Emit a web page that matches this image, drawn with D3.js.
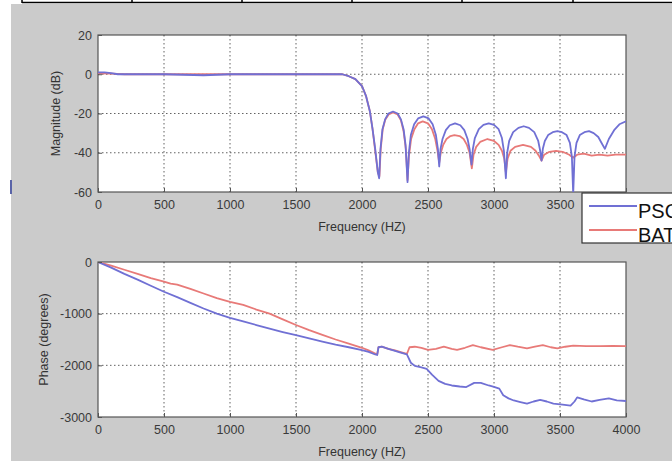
<!DOCTYPE html>
<html>
<head>
<meta charset="utf-8">
<script src="https://cdn.jsdelivr.net/npm/d3@7"></script>
<style>
  body { margin: 0; background: #fff; }
  svg { display: block; font-family: "Liberation Sans", Arial, sans-serif; }
  .tick text { fill: #3a3a3a; font-size: 12.5px; }
  .grid { stroke: #222; stroke-width: 1; stroke-dasharray: 1.5,2.5; opacity: 0.7; }
  .frame { fill: #fff; stroke: #555; stroke-width: 1.2; }
  .lbl { fill: #333; font-size: 12.5px; }
</style>
</head>
<body>
<div id="chart"></div>
<script>
// frequency ticks shared by both panels
var freqTicks = [0, 500, 1000, 1500, 2000, 2500, 3000, 3500, 4000];
var magTicks = [-60, -40, -20, 0, 20];
var phaseTicks = [-3000, -2000, -1000, 0];
var seriesNames = ["PSO", "BAT"];
var seriesColors = ["#7070d4", "#e87a78"];

// magnitude response [Hz, dB]
var magPSO = [[0,1],[50,1],[100,0.6],[150,0],[300,0],[500,0],[800,-0.5],[1000,0],[1200,0],[1500,0],
  [1700,0],[1850,0],[1900,-1],[1950,-2.5],[2000,-6],[2030,-11],[2060,-19],[2080,-28],[2100,-38],[2120,-50],
  [2130,-53],[2140,-38],[2155,-28],[2175,-23],[2200,-20],[2235,-19],[2270,-20],[2295,-23],[2315,-28],[2330,-36],
  [2345,-55],[2355,-40],[2370,-31],[2395,-25.5],[2425,-22.5],[2465,-21.5],[2505,-22.5],[2535,-25.5],[2560,-31],[2575,-38],
  [2585,-47],[2595,-38],[2610,-33],[2635,-28.5],[2665,-26],[2705,-25],[2745,-26],[2775,-28.5],[2800,-33],[2815,-38],
  [2830,-46],[2840,-38],[2855,-32.5],[2885,-28],[2920,-25.8],[2960,-25],[3000,-25.8],[3035,-28],[3060,-32.5],[3075,-39],
  [3090,-53],[3100,-40],[3115,-34],[3145,-29.5],[3185,-27.3],[3225,-26.5],[3265,-27.3],[3305,-29.5],[3335,-34],[3350,-39],
  [3360,-44],[3370,-38],[3385,-34],[3410,-31],[3445,-29.5],[3480,-29],[3515,-29.5],[3550,-31],[3575,-35],[3590,-42],
  [3600,-61],[3610,-42],[3625,-35],[3650,-31],[3685,-29.5],[3720,-29],[3755,-30],[3790,-32],[3815,-35],[3840,-38],
  [3870,-33],[3910,-28.5],[3950,-25.5],[4000,-24]];

var magBAT = [[0,0.5],[100,0.3],[200,0],[500,0],[900,0],[1200,0],[1500,0],[1850,0],[1900,-1],[1950,-2.5],
  [2000,-6],[2030,-11],[2060,-19],[2080,-28],[2100,-39],[2120,-50],[2132,-52],[2142,-38],[2157,-28],[2177,-23],
  [2202,-20.5],[2235,-19.5],[2270,-20.5],[2295,-23.5],[2315,-29],[2332,-38],[2345,-54],[2355,-42],[2372,-33],[2397,-28],
  [2425,-25],[2460,-24],[2500,-25],[2530,-28],[2555,-33],[2572,-39],[2585,-45],[2597,-40],[2615,-36],[2640,-33],
  [2670,-31.5],[2700,-31],[2740,-31.5],[2770,-33],[2795,-36],[2815,-40],[2832,-48],[2845,-41],[2865,-37],[2895,-34.5],
  [2950,-33],[3000,-34],[3035,-36],[3060,-39],[3078,-43],[3090,-50],[3103,-43],[3125,-39],[3160,-37],[3220,-36],
  [3280,-37],[3315,-39],[3340,-41.5],[3360,-44],[3380,-41],[3420,-39.5],[3470,-39],[3520,-39.5],[3570,-41],[3600,-42.5],
  [3630,-41],[3680,-40.5],[3740,-41.5],[3800,-41],[3860,-41.5],[3920,-41],[4000,-41]];

// phase response [Hz, degrees]
var phasePSO = [[0,0],[100,-110],[200,-230],[300,-340],[400,-460],[500,-575],[600,-680],[700,-790],[800,-900],[900,-1000],
  [1000,-1080],[1100,-1150],[1200,-1220],[1300,-1290],[1400,-1355],[1500,-1415],[1600,-1480],[1700,-1540],[1800,-1600],[1900,-1650],
  [2000,-1705],[2050,-1740],[2100,-1790],[2115,-1800],[2125,-1650],[2150,-1640],[2200,-1680],[2250,-1720],[2300,-1760],[2340,-1790],
  [2370,-1950],[2400,-2010],[2450,-2040],[2490,-2070],[2530,-2180],[2580,-2300],[2630,-2360],[2680,-2390],[2740,-2410],[2790,-2420],
  [2850,-2340],[2900,-2340],[2960,-2390],[3000,-2415],[3040,-2450],[3070,-2580],[3110,-2640],[3150,-2680],[3200,-2710],[3250,-2740],
  [3300,-2700],[3350,-2670],[3400,-2700],[3450,-2740],[3520,-2760],[3580,-2780],[3610,-2700],[3630,-2620],[3680,-2660],[3740,-2700],
  [3800,-2670],[3870,-2640],[3930,-2680],[4000,-2690]];

var phaseBAT = [[0,0],[100,-70],[200,-150],[300,-230],[400,-310],[500,-380],[550,-420],[600,-440],[700,-520],[800,-610],
  [900,-700],[1000,-770],[1100,-830],[1200,-920],[1300,-1000],[1400,-1110],[1500,-1220],[1600,-1320],[1700,-1410],[1800,-1500],
  [1900,-1580],[2000,-1660],[2050,-1710],[2100,-1770],[2115,-1790],[2125,-1650],[2150,-1640],[2200,-1680],[2250,-1710],[2300,-1750],
  [2340,-1780],[2360,-1650],[2400,-1640],[2450,-1660],[2500,-1700],[2560,-1680],[2620,-1640],[2680,-1680],[2720,-1700],[2780,-1660],
  [2840,-1610],[2900,-1650],[2990,-1700],[3060,-1650],[3120,-1610],[3180,-1640],[3250,-1670],[3310,-1640],[3370,-1610],[3430,-1650],
  [3480,-1670],[3540,-1640],[3600,-1620],[3700,-1630],[3800,-1630],[3900,-1625],[4000,-1630]];

var W = 672, H = 461;
var svg = d3.select("#chart").append("svg").attr("width", W).attr("height", H);

// figure background and the table border left over above it
svg.append("rect").attr("x", 11).attr("y", 4).attr("width", W - 11).attr("height", H - 4).style("fill", "#cbcbcb");
svg.append("line").attr("x1", 22).attr("x2", W).attr("y1", 2.5).attr("y2", 2.5)
  .style("stroke", "#000").style("stroke-width", 1.5);
[22, 132, 242, 352, 462, 573].forEach(function(x) {
  svg.append("line").attr("x1", x).attr("x2", x).attr("y1", 0).attr("y2", 3)
    .style("stroke", "#000").style("stroke-width", 1.5);
});
svg.append("rect").attr("x", 10).attr("y", 180).attr("width", 2).attr("height", 14).style("fill", "#5a64a8");

var x = d3.scaleLinear().domain([0, 4000]).range([98, 626]);
var fmt = function(d) { return String(d); };   // plain hyphen minus, like the original

function panel(id, yDomain, yTop, yBottom, yTicks, yLabel, yLabelX, series) {
  var y = d3.scaleLinear().domain(yDomain).range([yBottom, yTop]);
  var g = svg.append("g");

  g.append("rect").attr("class", "frame")
    .attr("x", x(0)).attr("y", yTop)
    .attr("width", x(4000) - x(0)).attr("height", yBottom - yTop);

  g.selectAll(".gx").data(freqTicks.slice(1, -1)).enter().append("line")
    .attr("class", "grid")
    .attr("x1", function(d) { return x(d); }).attr("x2", function(d) { return x(d); })
    .attr("y1", yTop).attr("y2", yBottom);
  g.selectAll(".gy").data(yTicks.slice(1, -1)).enter().append("line")
    .attr("class", "grid")
    .attr("x1", x(0)).attr("x2", x(4000))
    .attr("y1", function(d) { return y(d); }).attr("y2", function(d) { return y(d); });

  svg.append("clipPath").attr("id", id)
    .append("rect").attr("x", x(0)).attr("y", yTop)
    .attr("width", x(4000) - x(0)).attr("height", yBottom - yTop);

  var line = d3.line()
    .x(function(d) { return x(d[0]); })
    .y(function(d) { return y(d[1]); });

  // BAT first so the PSO line sits on top, as in the picture
  [1, 0].forEach(function(i) {
    g.append("path")
      .attr("clip-path", "url(#" + id + ")")
      .attr("d", line(series[i]))
      .style("fill", "none")
      .style("stroke", seriesColors[i])
      .style("stroke-width", 1.8)
      .style("stroke-linejoin", "round");
  });

  var xAxis = d3.axisBottom(x).tickValues(freqTicks).tickSize(-4).tickPadding(8).tickFormat(fmt);
  g.append("g").attr("transform", "translate(0," + yBottom + ")").call(xAxis)
    .call(function(a) { a.select(".domain").remove(); a.selectAll("line").style("stroke", "#555"); });
  var yAxis = d3.axisLeft(y).tickValues(yTicks).tickSize(-4).tickPadding(6).tickFormat(fmt);
  g.append("g").attr("transform", "translate(" + x(0) + ",0)").call(yAxis)
    .call(function(a) { a.select(".domain").remove(); a.selectAll("line").style("stroke", "#555"); });

  g.append("text").attr("class", "lbl")
    .attr("x", (x(0) + x(4000)) / 2).attr("y", yBottom + 39)
    .attr("text-anchor", "middle")
    .text("Frequency (HZ)");
  g.append("text").attr("class", "lbl")
    .attr("transform", "translate(" + yLabelX + "," + ((yTop + yBottom) / 2) + ") rotate(-90)")
    .attr("text-anchor", "middle")
    .text(yLabel);
}

panel("clipMag", [-60, 20], 35, 192, magTicks, "Magnitude (dB)", 60, [magPSO, magBAT]);
panel("clipPhase", [-3000, 0], 262, 417, phaseTicks, "Phase (degrees)", 48, [phasePSO, phaseBAT]);

// legend, pasted over the right side and cut off by the picture edge
var legend = svg.append("g");
legend.append("rect")
  .attr("x", 582).attr("y", 193).attr("width", 120).attr("height", 50)
  .style("fill", "#fff").style("stroke", "#333").style("stroke-width", 1.2);
seriesNames.forEach(function(name, i) {
  var ly = 206 + i * 24;
  legend.append("line")
    .attr("x1", 589).attr("x2", 637).attr("y1", ly).attr("y2", ly)
    .style("stroke", seriesColors[i]).style("stroke-width", 1.8);
  legend.append("text")
    .attr("x", 638).attr("y", ly + 12)
    .style("font-size", "20px").style("fill", "#111")
    .text(name);
});
</script>
</body>
</html>
